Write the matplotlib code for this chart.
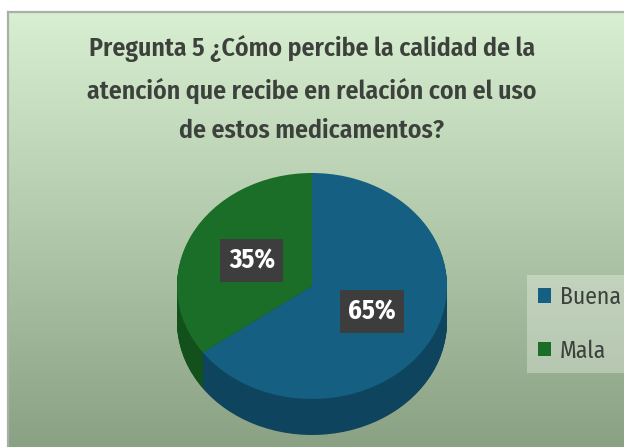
import numpy as np
import matplotlib.pyplot as plt
from matplotlib.patches import Patch

# Data
categories = ["Buena", "Mala"]
percentages = [65, 35]
title = ("Pregunta 5 ¿Cómo percibe la calidad de la\n"
         "atención que recibe en relación con el uso\n"
         "de estos medicamentos?")

top_colors = ["#156082", "#1b6e27"]
side_colors = ["#0f445e", "#12501c"]
text_color = "#3c413c"
font_narrow = ["Fira Sans Condensed", "Barlow Semi Condensed", "DejaVu Sans"]

W, H = 624, 447
fig = plt.figure(figsize=(W / 100, H / 100), dpi=100)
fig.patch.set_facecolor("white")

# Chart area background (vertical green gradient)
bg = fig.add_axes([8 / W, 0, (W - 8) / W, (H - 12) / H])
top_rgb = np.array([217, 239, 210]) / 255
bot_rgb = np.array([138, 162, 131]) / 255
t = np.linspace(0, 1, 256)[:, None]
grad = top_rgb * (1 - t) + bot_rgb * t
bg.imshow(grad[:, None, :], aspect="auto", extent=(0, 1, 0, 1))
bg.set_xticks([])
bg.set_yticks([])
for side in ["right", "bottom"]:
    bg.spines[side].set_visible(False)
for side in ["top", "left"]:
    bg.spines[side].set_color("#a9b0a9")
    bg.spines[side].set_linewidth(1.6)

# Title
fig.text(312 / W, 1 - 89 / H, title, ha="center", va="center",
         fontsize=18.6, fontweight="semibold", color=text_color,
         family=font_narrow, linespacing=1.74)

# Pie axes, pixel-like scaling so the pie reads as tilted
ax = fig.add_axes([0, 0, 1, 1])
ax.patch.set_alpha(0)
cx, cy, rx, ry, depth = 312, 286, 135, 113, 36

n_layers = 40
for k in range(n_layers, 0, -1):
    ax.pie(percentages, colors=side_colors, startangle=90, counterclock=False,
           center=(0, -depth / ry * k / n_layers),
           wedgeprops=dict(linewidth=0))

wedges, texts, autotexts = ax.pie(
    percentages, colors=top_colors, startangle=90, counterclock=False,
    autopct="%1.0f%%", pctdistance=0.5,
    wedgeprops=dict(linewidth=0),
    textprops=dict(color="white", fontsize=19, fontweight="bold",
                   family=font_narrow))
for at in autotexts:
    at.set_bbox(dict(boxstyle="square,pad=0.32", facecolor="#3d3d3d",
                     edgecolor="none"))

ax.set_aspect("auto")
ax.set_xlim(-cx / rx, (W - cx) / rx)
ax.set_ylim(-(H - cy) / ry, cy / ry)
ax.axis("off")

# Legend
handles = [Patch(facecolor=c, edgecolor="none") for c in top_colors]
leg = fig.legend(handles, categories, loc="center left",
                 bbox_to_anchor=(527 / W, 1 - 324 / H),
                 prop=dict(family=font_narrow, size=17),
                 frameon=True, fancybox=False, handlelength=0.55,
                 handleheight=0.55, handletextpad=0.4, labelspacing=1.3,
                 borderpad=0.45, borderaxespad=0)
leg.get_frame().set_facecolor("white")
leg.get_frame().set_alpha(0.3)
leg.get_frame().set_edgecolor("none")
for txt in leg.get_texts():
    txt.set_color(text_color)

fig.savefig("out.png", dpi=100)
